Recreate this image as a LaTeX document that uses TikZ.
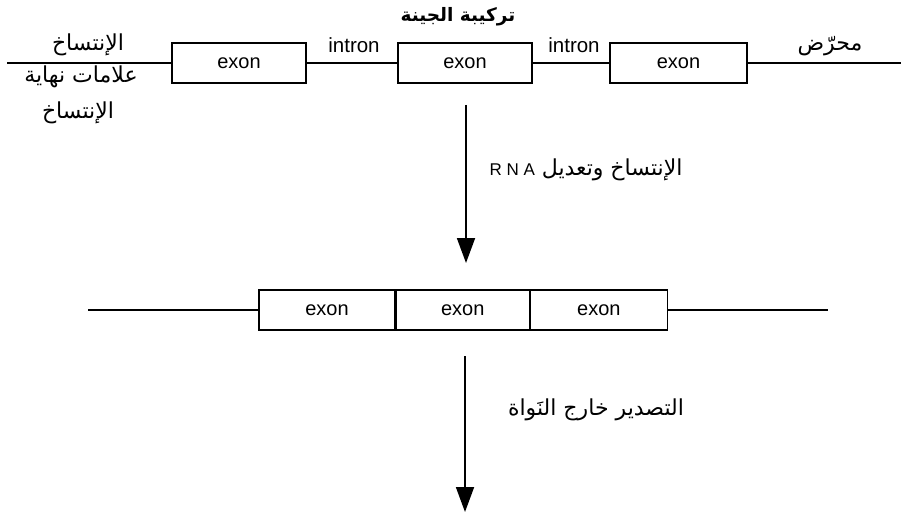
\documentclass[tikz,border=0pt]{standalone}
\usepackage{fontspec}
\usetikzlibrary{arrows.meta}
\TeXXeTstate=1
\newfontfamily\arabicfont[Script=Arabic]{DejaVu Sans}
\newfontfamily\latinfont{Liberation Sans}
\tikzset{
  exonbox/.style={draw, line width=1.2pt, minimum width=134pt, minimum height=40pt,
    inner sep=0pt, font=\latinfont\fontsize{20}{22}\selectfont},
  strand/.style={line width=1.4pt},
  flow/.style={line width=1.8pt, -{Triangle[length=25pt,width=18pt]}},
  artext/.style={font=\arabicfont\fontsize{22}{24}\selectfont, inner sep=0pt},
  lattext/.style={font=\latinfont\fontsize{20.5}{22}\selectfont, inner sep=0pt},
}
\begin{document}
\begin{tikzpicture}[x=1pt, y=-1pt]
  \useasboundingbox (0,0) rectangle (901,513);

  % gene structure
  \coordinate (gL) at (7,63);
  \coordinate (gR) at (901,63);
  \node[exonbox] (e1) at (239,63) {exon};
  \node[exonbox] (e2) at (465,63) {exon};
  \node[exonbox, minimum width=137pt] (e3) at (678.5,63) {exon};
  \draw[strand] (gL) -- (e1.west);
  \draw[strand] (e1.east) -- (e2.west);
  \draw[strand] (e2.east) -- (e3.west);
  \draw[strand] (e3.east) -- (gR);

  \node[artext, font=\arabicfont\bfseries\fontsize{18.5}{20}\selectfont] (title) at (458,17) {\beginR تركيبة الجينة\endR};
  \node[lattext] (i1) at (354,45) {intron};
  \node[lattext] (i2) at (574,45) {intron};
  \node[artext] (prom) at (830,46) {\beginR محرّض\endR};
  \node[artext] (tx) at (88,45) {\beginR الإنتساخ\endR};
  \node[artext] (term1) at (81,77) {\beginR علامات نهاية\endR};
  \node[artext] (term2) at (78,113) {\beginR الإنتساخ\endR};

  % transcription and processing
  \coordinate (a1s) at (466,105);
  \coordinate (a1e) at (466,263);
  \draw[flow] (a1s) -- (a1e);
  \node[artext] (proc) at (586,170) {\beginR الإنتساخ وتعديل \beginL{\latinfont\fontsize{17}{18}\selectfont R N A}\endL\endR};

  % mature mRNA
  \node[exonbox, minimum width=136pt] (m1) at (327,310) {exon};
  \node[exonbox, minimum width=133pt, anchor=west] (m2) at (m1.east) {exon};
  \node[exonbox, minimum width=137pt, anchor=west] (m3) at (m2.east) {exon};
  \coordinate (mL) at (88,310);
  \coordinate (mR) at (828,310);
  \draw[strand] (mL) -- (m1.west);
  \draw[strand] (m3.east) -- (mR);

  % export
  \coordinate (a2s) at (465,356);
  \coordinate (a2e) at (465,512);
  \draw[flow] (a2s) -- (a2e);
  \node[artext] (exp) at (596,410) {\beginR التصدير خارج النَواة\endR};
\end{tikzpicture}
\end{document}
